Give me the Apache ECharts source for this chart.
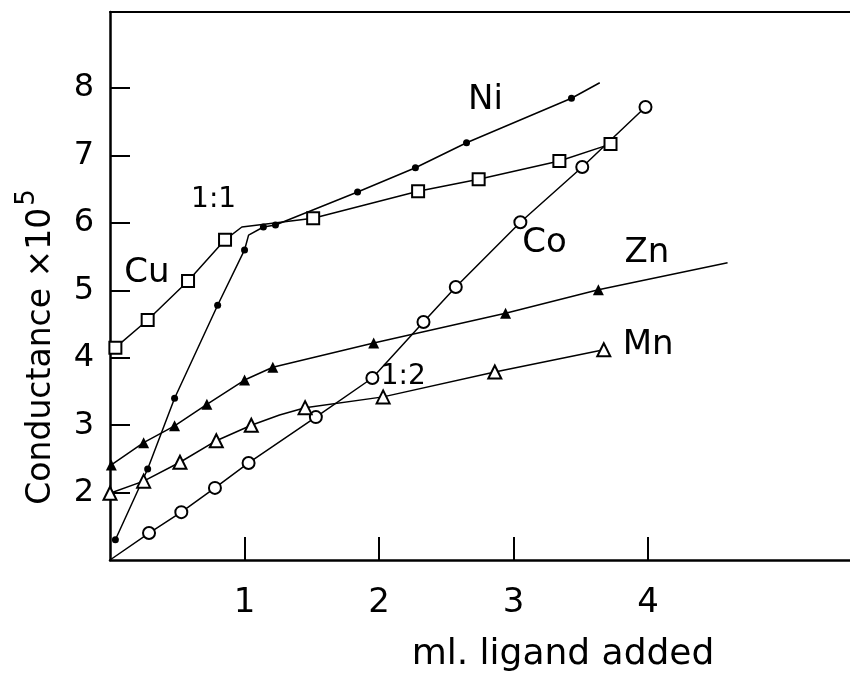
<!DOCTYPE html>
<html>
<head>
<meta charset="utf-8">
<script src="https://cdn.jsdelivr.net/npm/echarts@6/dist/echarts.min.js"></script>
<style>html,body{margin:0;padding:0;background:#fff}#c{width:850px;height:678px}</style>
</head>
<body>
<div id="c"></div>
<script>
// ---- data ----
const xTicks = [1, 2, 3, 4];
const yTicks = [2, 3, 4, 5, 6, 7, 8];

// measured points (with markers) and line corners (no markers)
const cuPoints = [[0.04,4.15],[0.28,4.56],[0.58,5.14],[0.855,5.75],[1.51,6.07],[2.29,6.47],[2.74,6.65],[3.34,6.92],[3.72,7.17]];
const cuBends  = [[0.98,5.94]];
const niPoints = [[0.04,1.30],[0.28,2.35],[0.48,3.40],[0.80,4.78],[1.00,5.60],[1.14,5.94],[1.23,5.97],[1.84,6.46],[2.27,6.82],[2.65,7.19],[3.43,7.85]];
const niBends  = [[1.03,5.82],[3.64,8.08]];
const coPoints = [[0.29,1.40],[0.53,1.71],[0.78,2.07],[1.03,2.44],[1.53,3.12],[1.95,3.70],[2.33,4.53],[2.57,5.05],[3.05,6.01],[3.51,6.83],[3.98,7.72]];
const coBends  = [[0,1]];
const znPoints = [[0.01,2.41],[0.25,2.74],[0.48,2.99],[0.72,3.31],[1.00,3.67],[1.21,3.86],[1.96,4.22],[2.94,4.66],[3.63,5.01]];
const znBends  = [[4.59,5.41]];
const mnPoints = [[0,1.99],[0.25,2.17],[0.52,2.45],[0.79,2.77],[1.05,3.00],[1.45,3.26],[2.03,3.42],[2.86,3.79],[3.67,4.12]];
const mnBends  = [[1.26,3.15]];

const noteTexts = ['Ni', 'Cu', 'Co', 'Zn', 'Mn'];
const noteX     = [2.79, 0.275, 3.23, 3.99, 4.00];
const noteY     = [7.82, 5.26, 5.70, 5.55, 4.19];
const ratioTexts = ['1:1', '1:2'];
const ratioX     = [0.77, 2.18];
const ratioY     = [6.34, 3.72];

function build(points, bends) {
  const all = points.map(p => ({ value: p }))
    .concat(bends.map(p => ({ value: p, symbol: 'none' })));
  all.sort((a, b) => a.value[0] - b.value[0]);
  return all;
}

const FONT = 'DejaVu Sans';
const chart = echarts.init(document.getElementById('c'), null, { renderer: 'canvas' });

function lineSeries(name, points, bends, symbol, size, filled) {
  return {
    name, type: 'line', data: build(points, bends),
    symbol, symbolSize: size, showSymbol: true,
    lineStyle: { color: '#000', width: 1.5 },
    itemStyle: filled ? { color: '#000' } : { color: '#000', borderColor: '#000', borderWidth: 1.5 },
    emphasis: { disabled: true },
    animation: false, z: 3
  };
}

function textSeries(texts, xs, ys, size) {
  return {
    type: 'scatter', symbolSize: 1, itemStyle: { color: 'rgba(0,0,0,0)', opacity: 1 },
    data: texts.map((t, i) => ({ name: t, value: [xs[i], ys[i]] })),
    label: { show: true, position: 'inside', formatter: p => p.name, fontSize: size,
             color: '#000', opacity: 1, textBorderWidth: 0, fontFamily: FONT },
    emphasis: { disabled: true }, z: 5, animation: false
  };
}

const option = {
  backgroundColor: '#fff',
  animation: false,
  grid: { left: 110, right: 0, top: 12, bottom: 118, containLabel: false },
  xAxis: [{
    type: 'value', min: 0, max: 5.5, position: 'bottom',
    axisLine: { show: true, onZero: false, lineStyle: { color: '#000', width: 2.5 } },
    axisTick: { show: true, inside: true, length: 23, customValues: xTicks, lineStyle: { color: '#000', width: 2 } },
    axisLabel: { show: true, customValues: xTicks, fontSize: 34, margin: 26, color: '#000', fontFamily: FONT },
    splitLine: { show: false }
  }, {
    type: 'value', min: 0, max: 5.5, position: 'top',
    axisLine: { show: true, onZero: false, lineStyle: { color: '#000', width: 2 } },
    axisTick: { show: false }, axisLabel: { show: false }, splitLine: { show: false }
  }],
  yAxis: {
    type: 'value', min: 1, max: 9.13,
    axisLine: { show: true, onZero: false, lineStyle: { color: '#000', width: 2.5 } },
    axisTick: { show: true, inside: true, length: 20, customValues: yTicks, lineStyle: { color: '#000', width: 2 } },
    axisLabel: { show: true, customValues: yTicks, fontSize: 32, margin: 16, color: '#000', fontFamily: FONT },
    splitLine: { show: false }
  },
  series: [
    lineSeries('Ni', niPoints, niBends, 'circle', 7, true),
    lineSeries('Cu', cuPoints, cuBends, 'emptyRect', 12, false),
    lineSeries('Co', coPoints, coBends, 'emptyCircle', 12, false),
    lineSeries('Zn', znPoints, znBends, 'triangle', 11, true),
    lineSeries('Mn', mnPoints, mnBends, 'emptyTriangle', 13, false),
    textSeries(noteTexts, noteX, noteY, 34),
    textSeries(ratioTexts, ratioX, ratioY, 28)
  ],
  graphic: [
    {
      type: 'text', x: 36, y: 347, rotation: Math.PI / 2,
      style: {
        text: '{a|Conductance ×10}{s|5}',
        align: 'center', verticalAlign: 'middle',
        rich: {
          a: { fontSize: 33, fontFamily: FONT, fill: '#000', verticalAlign: 'bottom' },
          s: { fontSize: 26, fontFamily: FONT, fill: '#000', verticalAlign: 'top', padding: [0, 0, 18, 2] }
        }
      }
    },
    {
      type: 'text', x: 563, y: 655,
      style: { text: 'ml. ligand added', fontSize: 36, fontFamily: FONT, fill: '#000', align: 'center', verticalAlign: 'middle' }
    }
  ]
};
chart.setOption(option);
</script>
</body>
</html>
